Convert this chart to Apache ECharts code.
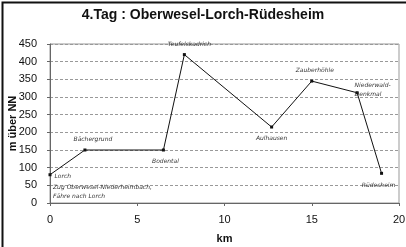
<!DOCTYPE html>
<html>
<head>
<meta charset="utf-8">
<script src="https://cdn.jsdelivr.net/npm/echarts@6/dist/echarts.min.js"></script>
<style>
  html, body { margin: 0; padding: 0; background: #fff; }
  #chart { width: 406px; height: 247px; }
</style>
</head>
<body>
<div id="chart"></div>
<script>
// Höhenprofil der 4. Etappe
const distanceKm = [0, 2.0, 6.5, 7.7, 12.7, 15.0, 17.6, 19.0];
const heightM    = [80, 150, 150, 420, 215, 345, 312, 84];
const placeNames = ['Lorch', 'Bächergrund', 'Bodental', 'Teufelskadrich',
                    'Aulhausen', 'Zauberhöhle', 'Niederwald-\nDenkmal', 'Rüdesheim'];
const noteLines  = ['Zug Oberwesel-Niederheimbach,', 'Fähre nach Lorch'];
const xTicks = [0, 5, 10, 15, 20];
const yTicks = [0, 50, 100, 150, 200, 250, 300, 350, 400, 450];

// where each handwritten place name sits relative to its point
const labelPlacement = [
  { position: 'right', offset: [-2, 2] },
  { position: 'top', offset: [8, 0] },
  { position: 'bottom', offset: [2, 0] },
  { position: 'top', offset: [5, 1] },
  { position: 'bottom', offset: [0, 0] },
  { position: 'top', offset: [3, 0] },
  { position: 'right', offset: [-9, -3] },
  { position: 'bottom', offset: [-3, 1] }
];

const handFont = { fontFamily: 'DejaVu Sans', fontStyle: 'italic', fontSize: 6, color: '#333', lineHeight: 9 };

const points = distanceKm.map((x, i) => ({
  value: [x, heightM[i]],
  label: Object.assign({ show: true, formatter: placeNames[i] }, handFont, labelPlacement[i])
}));

const chart = echarts.init(document.getElementById('chart'), null, { renderer: 'canvas' });
chart.setOption({
  animation: false,
  backgroundColor: '#fff',
  title: {
    text: '4.Tag : Oberwesel-Lorch-Rüdesheim',
    left: 'center', top: 3,
    textStyle: { fontFamily: 'Liberation Sans', fontWeight: 'bold', fontSize: 14, color: '#111' }
  },
  grid: {
    left: 50, right: 7, top: 44, bottom: 44,
    outerBoundsMode: 'none', containLabel: false,
    show: true, borderColor: '#999', borderWidth: 1
  },
  xAxis: {
    type: 'value', min: 0, max: 20, interval: 5,
    name: 'km', nameLocation: 'middle', nameGap: 30, nameMoveOverlap: false,
    nameTextStyle: { fontFamily: 'Liberation Sans', fontWeight: 'bold', fontSize: 11, color: '#111' },
    axisLine: { show: true, lineStyle: { color: '#666' } },
    axisTick: { show: true, length: 3, lineStyle: { color: '#666' } },
    axisLabel: { margin: 11, fontFamily: 'Liberation Sans', fontSize: 11, color: '#111',
                 formatter: v => xTicks.includes(v) ? String(v) : '' },
    splitLine: { show: false }
  },
  yAxis: {
    type: 'value', min: 0, max: 450, interval: 50,
    name: 'm über NN', nameLocation: 'middle', nameGap: 32, nameMoveOverlap: false,
    nameTextStyle: { fontFamily: 'Liberation Sans', fontWeight: 'bold', fontSize: 11, color: '#111' },
    axisLine: { show: true, lineStyle: { color: '#666' } },
    axisTick: { show: true, length: 3, lineStyle: { color: '#666' } },
    axisLabel: { margin: 13, fontFamily: 'Liberation Sans', fontSize: 11, color: '#111',
                 formatter: v => yTicks.includes(v) ? String(v) : '' },
    splitLine: { show: true, lineStyle: { color: '#999', type: [3, 2], width: 1 } }
  },
  series: [{
    type: 'line',
    data: points,
    symbol: 'rect', symbolSize: 3,
    itemStyle: { color: '#111' },
    lineStyle: { color: '#111', width: 1 },
    z: 3
  }],
  graphic: [
    {
      type: 'rect', left: 0, top: 0, z: 10,
      shape: { x: 0.5, y: 0.5, width: 405, height: 246 },
      style: { fill: null, stroke: '#111', lineWidth: 2 }
    },
    {
      type: 'text', left: 53, top: 183, z: 5,
      style: { text: noteLines.join('\n'), fill: '#333', font: 'italic 6px "DejaVu Sans"', lineHeight: 9 }
    }
  ]
});
</script>
</body>
</html>
